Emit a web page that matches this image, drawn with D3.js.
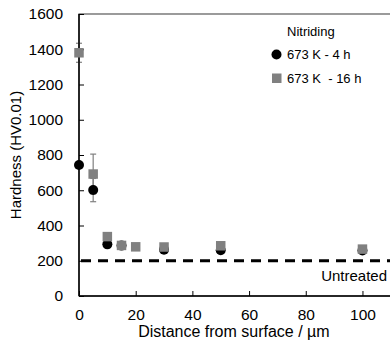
<!DOCTYPE html>
<html><head><meta charset="utf-8">
<script src="https://cdn.jsdelivr.net/npm/d3@7"></script>
<style>body{margin:0;background:#fff}svg{display:block;font-family:"Liberation Sans",Arial,sans-serif}</style>
</head><body><svg id="c" width="390" height="354"></svg>
<script>
const xTicks = [0,20,40,60,80,100];
const yTicks = [0,200,400,600,800,1000,1200,1400,1600];
const dist4h = [0,5,10,15,30,50,100];
const hard4h = [743,601,293,286,262,260,258];
const err4h  = [0,66,0,0,0,0,0];
const dist16h = [0,5,10,15,20,30,50,100];
const hard16h = [1380,692,337,287,279,278,285,266];
const err16h  = [54,113,0,0,0,0,0,0];
const untreated = 200;
const seriesNames = ["673 K - 4 h","673 K  - 16 h"];

const svg = d3.select("#c");
const L=79, T=14, B=296;
const x = d3.scaleLinear().domain([0,110]).range([L, L+311.8]);
const y = d3.scaleLinear().domain([0,1600]).range([B, T]);

// frame (top + right beyond view)
svg.append("rect").attr("x",L).attr("y",T).attr("width",x(110)-L).attr("height",B-T)
  .attr("fill","none").attr("stroke","#595959").attr("stroke-width",1.2);

// dashed untreated line
svg.append("line").attr("x1",x(0)+2).attr("x2",390).attr("y1",y(untreated)).attr("y2",y(untreated))
  .attr("stroke","#000").attr("stroke-width",3).attr("stroke-dasharray","10,7");
svg.append("text").attr("x",387).attr("y",281).attr("text-anchor","end")
  .attr("font-size",15).text("Untreated");

// error bars
function errBars(xs, ys, es){
  xs.forEach((d,i)=>{
    if(!es[i]) return;
    const cx=x(d), y1=y(ys[i]+es[i]), y2=y(ys[i]-es[i]);
    const g=svg.append("g").attr("stroke","#808080").attr("stroke-width",1.2);
    g.append("line").attr("x1",cx).attr("x2",cx).attr("y1",y1).attr("y2",y2);
    g.append("line").attr("x1",cx-3).attr("x2",cx+3).attr("y1",y1).attr("y2",y1);
    g.append("line").attr("x1",cx-3).attr("x2",cx+3).attr("y1",y2).attr("y2",y2);
  });
}
errBars(dist4h,hard4h,err4h);
errBars(dist16h,hard16h,err16h);

// axes
const xAxis = svg.append("g").attr("transform",`translate(0,${B})`)
  .call(d3.axisBottom(x).tickValues(xTicks).tickFormat(d3.format("d")).tickSizeInner(-5).tickSizeOuter(0).tickPadding(13));
const yAxis = svg.append("g").attr("transform",`translate(${L},0)`)
  .call(d3.axisLeft(y).tickValues(yTicks).tickFormat(d3.format("d")).tickSizeInner(-5).tickSizeOuter(0).tickPadding(16));
[xAxis,yAxis].forEach(a=>{
  a.select(".domain").attr("stroke","#000").attr("stroke-width",1.5);
  a.selectAll(".tick line").attr("stroke","#000").attr("stroke-width",1);
  a.selectAll("text").attr("font-size",15.5).attr("fill","#000").attr("font-family","Liberation Sans, Arial, sans-serif");
});
xAxis.select(".domain").attr("d",`M${L},0H${x(110)}`);
yAxis.select(".domain").attr("d",`M0,${B}V${T}`);

// markers
svg.append("g").selectAll("circle").data(dist4h).join("circle")
  .attr("cx",d=>x(d)).attr("cy",(d,i)=>y(hard4h[i])).attr("r",5).attr("fill","#000");
const s=9.5;
svg.append("g").selectAll("rect").data(dist16h).join("rect")
  .attr("x",d=>x(d)-s/2).attr("y",(d,i)=>y(hard16h[i])-s/2).attr("width",s).attr("height",s).attr("fill","#808080");

// legend
svg.append("text").attr("x",287).attr("y",36).attr("font-size",13).text("Nitriding");
svg.append("circle").attr("cx",276.5).attr("cy",54.5).attr("r",5).attr("fill","#000");
svg.append("text").attr("x",287).attr("y",59).attr("font-size",13).text(seriesNames[0]);
svg.append("rect").attr("x",272).attr("y",73.5).attr("width",s).attr("height",s).attr("fill","#808080");
svg.append("text").attr("x",287).attr("y",83).attr("font-size",13).style("white-space","pre").text(seriesNames[1]);

// axis titles
svg.append("text").attr("x",(x(0)+x(110))/2 - 1).attr("y",337).attr("text-anchor","middle")
  .attr("font-size",16).text("Distance from surface / µm");
svg.append("text").attr("transform","translate(21,155) rotate(-90)").attr("text-anchor","middle")
  .attr("font-size",15).text("Hardness (HV0.01)");
</script></body></html>
